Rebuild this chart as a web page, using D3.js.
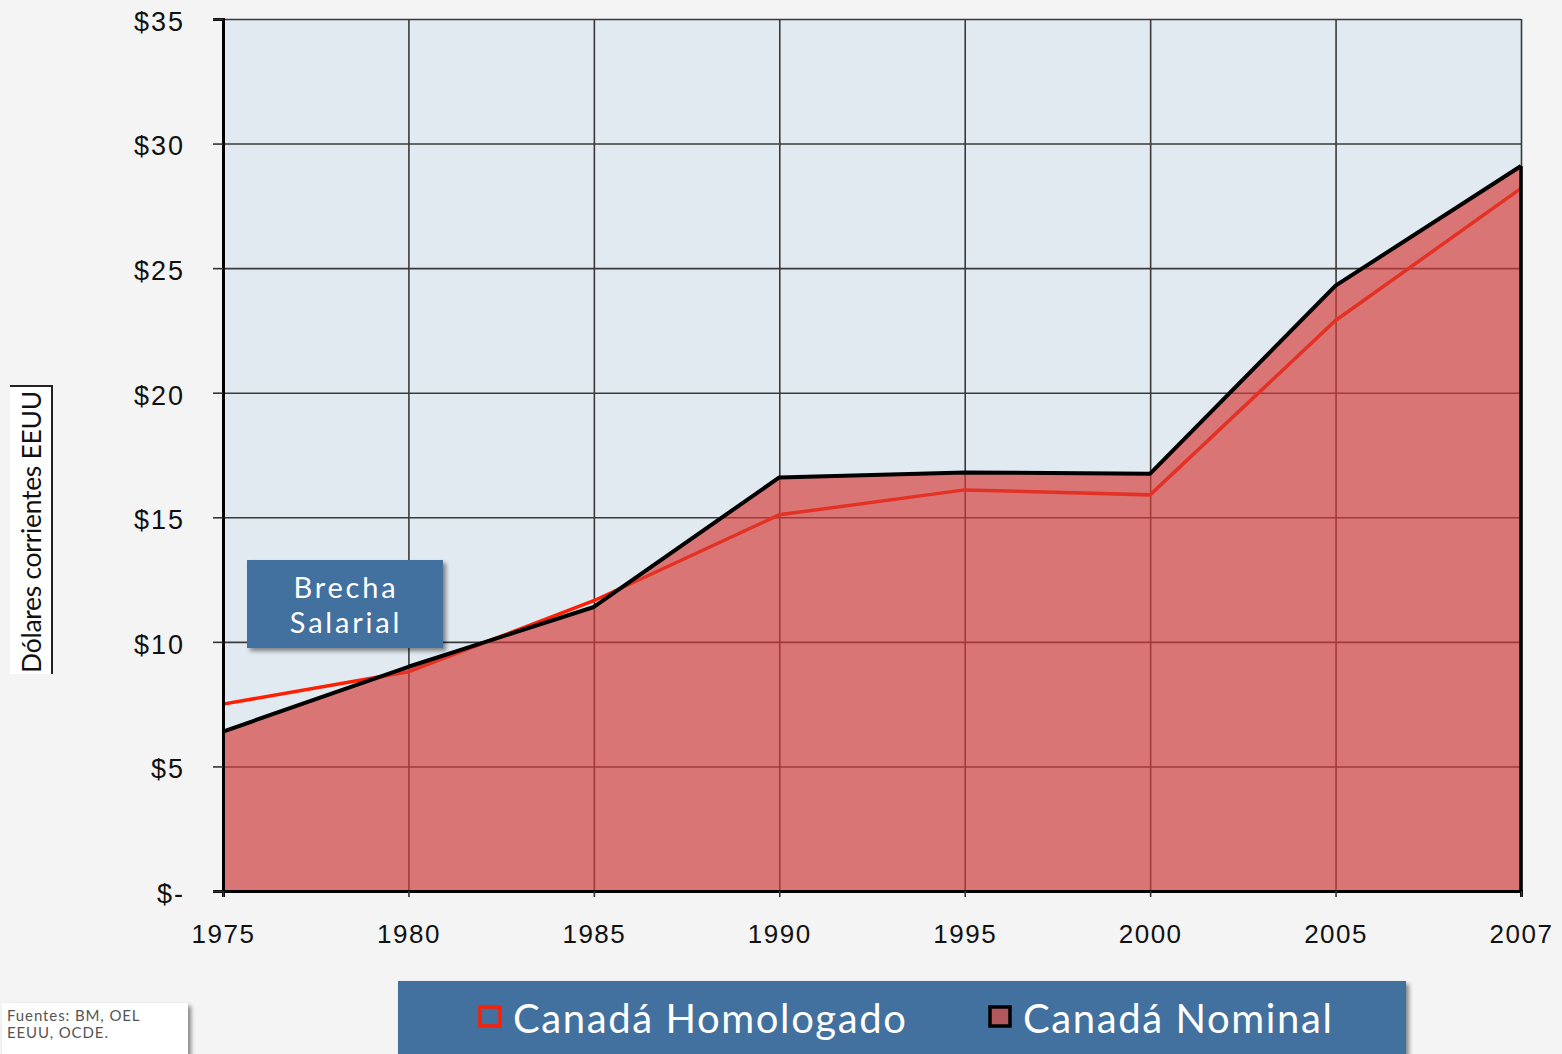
<!DOCTYPE html>
<html>
<head>
<meta charset="utf-8">
<script src="https://cdn.jsdelivr.net/npm/d3@7"></script>
<style>
  body { margin: 0; background: #f4f4f4; }
  svg { display: block; font-family: Lato, "Open Sans", sans-serif; }
</style>
</head>
<body>
<svg id="chart" width="1562" height="1054"></svg>
<script>
// chart values
const years = ['1975', '1980', '1985', '1990', '1995', '2000', '2005', '2007'];
const nominal = [6.4, 9.0, 11.4, 16.6, 16.8, 16.75, 24.3, 29.1];
const homologado = [7.5, 8.8, 11.65, 15.1, 16.1, 15.9, 22.9, 28.2];
const yTicks = [0, 5, 10, 15, 20, 25, 30, 35];
const yTitle = 'Dólares corrientes EEUU';
const legendLabels = ['Canadá Homologado', 'Canadá Nominal'];
const noteLines = ['Fuentes: BM, OEL', 'EEUU, OCDE.'];
const calloutLines = ['Brecha', 'Salarial'];

const margin = { top: 19, left: 223 };
const width = 1298;
const height = 872;

const svg = d3.select('#chart');

// shadow filter for the boxes
const defs = svg.append('defs');
const f = defs.append('filter').attr('id', 'shadow')
  .attr('x', '-10%').attr('y', '-20%').attr('width', '130%').attr('height', '160%');
f.append('feDropShadow').attr('dx', 3).attr('dy', 3).attr('stdDeviation', 2)
  .attr('flood-color', '#000').attr('flood-opacity', 0.45);

const g = svg.append('g')
  .attr('transform', 'translate(' + margin.left + ',' + margin.top + ')');

const x = d3.scalePoint().domain(years).range([0, width]);
const y = d3.scaleLinear().domain([0, 35]).range([height, 0]);

// plot background
g.append('rect')
  .attr('width', width).attr('height', height)
  .attr('fill', '#e0eaf0');

// grid lines
g.append('g')
  .call(d3.axisLeft(y).tickValues(yTicks).tickSize(-width).tickFormat(''))
  .call(s => s.select('.domain').remove())
  .selectAll('line').attr('stroke', '#3a3a3a').attr('stroke-width', 1.6);

g.append('g')
  .attr('transform', 'translate(0,' + height + ')')
  .call(d3.axisBottom(x).tickSize(-height).tickFormat(''))
  .call(s => s.select('.domain').remove())
  .selectAll('line').attr('stroke', '#3a3a3a').attr('stroke-width', 1.6);

// homologado outline (drawn under the nominal fill)
const line = d3.line().x((d, i) => x(years[i])).y(d => y(d));
g.append('path')
  .datum(homologado)
  .attr('d', line)
  .attr('fill', 'none')
  .attr('stroke', '#ff1e00')
  .attr('stroke-width', 3.5);

// nominal area
const area = d3.area().x((d, i) => x(years[i])).y0(y(0)).y1(d => y(d));
g.append('path')
  .datum(nominal)
  .attr('d', area)
  .attr('fill', '#d53c37')
  .attr('fill-opacity', 0.67);

g.append('path')
  .datum(nominal)
  .attr('d', line)
  .attr('fill', 'none')
  .attr('stroke', '#000')
  .attr('stroke-width', 4)
  .attr('stroke-linejoin', 'round');

// right edge of nominal area
g.append('line')
  .attr('x1', x('2007')).attr('x2', x('2007'))
  .attr('y1', y(nominal[nominal.length - 1])).attr('y2', height)
  .attr('stroke', '#000').attr('stroke-width', 3.5);

// axes
const yAxis = g.append('g')
  .call(d3.axisLeft(y).tickValues(yTicks).tickSize(10).tickPadding(28)
    .tickFormat(d => d === 0 ? '$-' : '$' + d));
yAxis.select('.domain').attr('stroke', '#000').attr('stroke-width', 3);
yAxis.selectAll('line').attr('stroke', '#333').attr('stroke-width', 1.6);
yAxis.selectAll('text')
  .attr('fill', '#111')
  .attr('dy', '0.42em')
  .style('font-size', '27px')
  .style('letter-spacing', '2px');

const xAxis = g.append('g')
  .attr('transform', 'translate(0,' + height + ')')
  .call(d3.axisBottom(x).tickSize(6).tickPadding(28));
xAxis.select('.domain').attr('stroke', '#000').attr('stroke-width', 3);
xAxis.selectAll('line').attr('stroke', '#333').attr('stroke-width', 1.6);
xAxis.selectAll('text')
  .attr('fill', '#111')
  .style('font-size', '26px')
  .style('letter-spacing', '1.5px');

// y-axis title box
const tBox = svg.append('g');
tBox.append('rect')
  .attr('x', 10).attr('y', 386).attr('width', 42).attr('height', 288)
  .attr('fill', '#fff');
tBox.append('path')
  .attr('d', 'M10,386 H52 V674')
  .attr('fill', 'none').attr('stroke', '#222').attr('stroke-width', 2);
tBox.append('text')
  .attr('transform', 'translate(41,532) rotate(-90)')
  .attr('text-anchor', 'middle')
  .attr('fill', '#111')
  .style('font-size', '26.5px')
  .style('letter-spacing', '-0.3px')
  .text(yTitle);

// callout box
const cb = svg.append('g');
cb.append('rect')
  .attr('x', 247).attr('y', 560).attr('width', 196).attr('height', 88)
  .attr('fill', '#42709f').attr('filter', 'url(#shadow)');
cb.selectAll('text').data(calloutLines).join('text')
  .attr('x', 346).attr('y', (d, i) => 598 + i * 35)
  .attr('text-anchor', 'middle')
  .attr('fill', '#fff')
  .style('font-size', '29px')
  .style('letter-spacing', '2.8px')
  .text(d => d);

// sources note
const nb = svg.append('g');
nb.append('rect')
  .attr('x', 2).attr('y', 1003).attr('width', 186).attr('height', 60)
  .attr('fill', '#fff').attr('filter', 'url(#shadow)');
nb.selectAll('text').data(noteLines).join('text')
  .attr('x', 7).attr('y', (d, i) => 1021 + i * 17)
  .attr('fill', '#555')
  .style('font-size', '15px')
  .style('letter-spacing', '0.9px')
  .text(d => d);

// legend
const lg = svg.append('g');
lg.append('rect')
  .attr('x', 398).attr('y', 981).attr('width', 1008).attr('height', 80)
  .attr('fill', '#42709f').attr('filter', 'url(#shadow)');
const legendX = [478, 988];
const legendSwatch = [
  { fill: 'none', stroke: '#ff1e00' },
  { fill: '#b0585c', stroke: '#000' }
];
legendLabels.forEach((label, i) => {
  lg.append('rect')
    .attr('x', legendX[i] + 2).attr('y', 1007)
    .attr('width', 20).attr('height', 19)
    .attr('fill', legendSwatch[i].fill)
    .attr('stroke', legendSwatch[i].stroke)
    .attr('stroke-width', 3.5);
  lg.append('text')
    .attr('x', legendX[i] + 35).attr('y', 1033)
    .attr('fill', '#fff')
    .style('font-size', '40px')
    .style('letter-spacing', '1.6px')
    .text(label);
});
</script>
</body>
</html>
